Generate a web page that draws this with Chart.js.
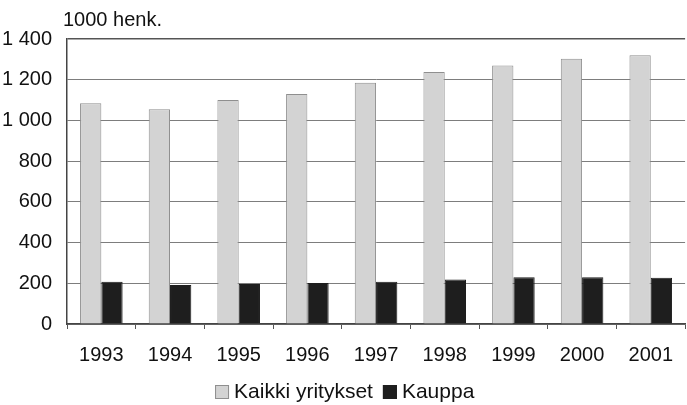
<!DOCTYPE html>
<html>
<head>
<meta charset="utf-8">
<script src="https://cdn.jsdelivr.net/npm/chart.js@4"></script>
<style>
html,body{margin:0;padding:0;background:#fff;}
#wrap{width:687px;height:405px;position:relative;}
</style>
</head>
<body>
<div id="wrap"><canvas id="c" width="687" height="405"></canvas></div>
<script>
const years = ['1993','1994','1995','1996','1997','1998','1999','2000','2001'];
const kaikkiYritykset = [1085, 1055, 1100, 1130, 1185, 1238, 1270, 1303, 1320];
const kauppa = [207, 192, 196, 201, 208, 219, 230, 230, 227];
const seriesNames = ['Kaikki yritykset', 'Kauppa'];
const unitLabel = '1000 henk.';
const yMax = 1400;
const yStep = 200;

const FONT = 'Liberation Sans, Arial, sans-serif';
const FS = 20;

const unitPlugin = {
  id: 'unitLabel',
  afterDraw(chart) {
    const ctx = chart.ctx;
    const a = chart.chartArea;
    ctx.save();
    ctx.font = FS + 'px ' + FONT;
    ctx.fillStyle = '#111';
    ctx.textAlign = 'left';
    ctx.textBaseline = 'middle';
    ctx.fillText(unitLabel, a.left - 4, a.top - 19);
    ctx.restore();
  }
};

const legendPlugin = {
  id: 'customLegend',
  afterDraw(chart) {
    const ctx = chart.ctx;
    ctx.save();
    ctx.font = '21px ' + FONT;
    ctx.textBaseline = 'middle';
    ctx.textAlign = 'left';
    const box = 14, gap = 5, itemGap = 10;
    const items = chart.data.datasets.map(d => ({
      text: d.label, fill: d.backgroundColor, stroke: d.borderColor,
      w: box + gap + ctx.measureText(d.label).width
    }));
    const total = items.reduce((s, it) => s + it.w, 0) + itemGap * (items.length - 1);
    const a = chart.chartArea;
    let x = (a.left + a.right) / 2 - 161 - total / 2 + total / 2;
    const cy = 392;
    items.forEach(it => {
      ctx.fillStyle = it.fill;
      ctx.fillRect(x, cy - box / 2, box, box);
      ctx.strokeStyle = it.stroke;
      ctx.lineWidth = 1;
      ctx.strokeRect(x + 0.5, cy - box / 2 + 0.5, box - 1, box - 1);
      ctx.fillStyle = '#111';
      ctx.fillText(it.text, x + box + gap, cy);
      x += it.w + itemGap;
    });
    ctx.restore();
  }
};

new Chart(document.getElementById('c'), {
  type: 'bar',
  data: {
    labels: years,
    datasets: [
      {
        label: seriesNames[0],
        data: kaikkiYritykset,
        backgroundColor: '#d3d3d3',
        borderColor: '#8f8f8f',
        borderWidth: 1,
        categoryPercentage: 0.62,
        barPercentage: 1.0
      },
      {
        label: seriesNames[1],
        data: kauppa,
        backgroundColor: '#1e1e1e',
        borderColor: '#1e1e1e',
        borderWidth: 1,
        categoryPercentage: 0.62,
        barPercentage: 1.0
      }
    ]
  },
  options: {
    responsive: false,
    animation: false,
    devicePixelRatio: 1,
    layout: { padding: { top: 39, left: 0, right: 0, bottom: 24 } },
    plugins: {
      legend: { display: false },
      tooltip: { enabled: false }
    },
    scales: {
      x: {
        grid: {
          display: true,
          drawOnChartArea: false,
          drawTicks: true,
          tickLength: 5,
          color: '#555',
          offset: true
        },
        border: { display: true, color: '#444', width: 1.5 },
        ticks: {
          font: { family: FONT, size: FS },
          color: '#111',
          padding: 14
        }
      },
      y: {
        min: 0,
        max: yMax,
        afterFit(scale) { scale.width = 67; },
        grid: {
          color: (c) => (c.tick && c.tick.value === yMax) ? '#555' : '#7d7d7d',
          lineWidth: (c) => (c.tick && c.tick.value === yMax) ? 1.5 : 1,
          drawTicks: false
        },
        border: { display: true, color: '#444', width: 1.5 },
        ticks: {
          stepSize: yStep,
          font: { family: FONT, size: FS },
          color: '#111',
          padding: 15,
          callback: (v) => String(v).replace(/\B(?=(\d{3})+(?!\d))/g, ' ')
        }
      }
    }
  },
  plugins: [unitPlugin, legendPlugin]
});
</script>
</body>
</html>
